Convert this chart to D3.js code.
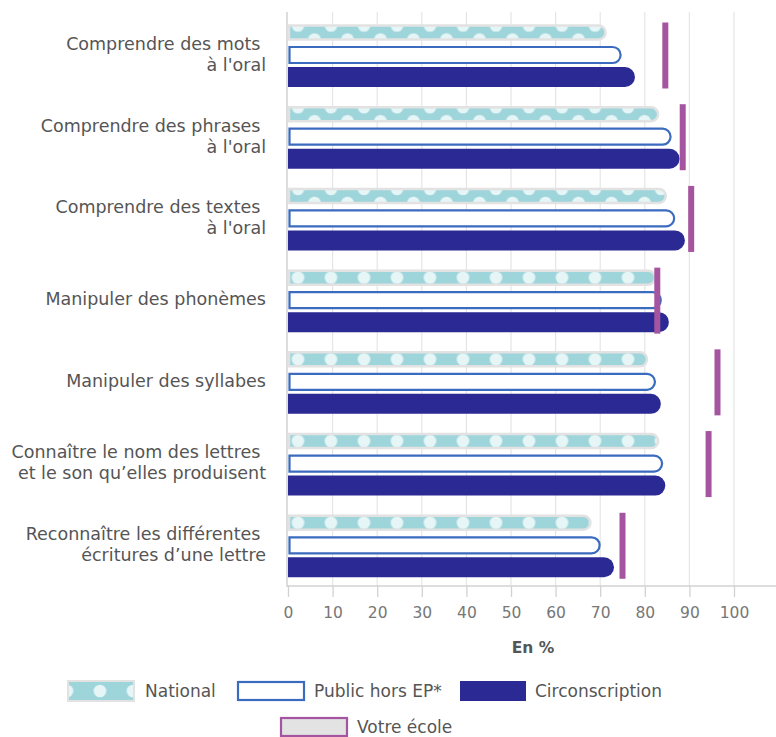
<!DOCTYPE html>
<html><head><meta charset="utf-8">
<script src="https://cdn.jsdelivr.net/npm/d3@7"></script>
<style>
html,body{margin:0;padding:0;background:#fff;}
svg{display:block;}
text{font-family:"DejaVu Sans",sans-serif;}
</style></head>
<body><svg id="chart" width="776" height="737"></svg>
<script>
const categories = [
  ["Comprendre des mots ", "à l'oral"],
  ["Comprendre des phrases ", "à l'oral"],
  ["Comprendre des textes ", "à l'oral"],
  ["Manipuler des phonèmes"],
  ["Manipuler des syllabes"],
  ["Connaître le nom des lettres ", "et le son qu’elles produisent"],
  ["Reconnaître les différentes ", "écritures d’une lettre"]
];
const nationalValues = [71.2, 83.0, 84.7, 82.3, 80.5, 83.0, 67.8];
const publicValues   = [74.8, 86.0, 86.8, 83.8, 82.5, 84.1, 70.1];
const circValues     = [77.8, 87.8, 89.0, 85.4, 83.6, 84.6, 73.1];
const ecoleValues    = [84.6, 88.5, 90.4, 82.8, 96.3, 94.3, 75.0];
const xTicks = [0,10,20,30,40,50,60,70,80,90,100];
const legendItems = ["National", "Public hors EP*", "Circonscription", "Votre école"];

const C = {teal:"#9dd5db", dot:"#e6f5f6", halo:"#e2e2e2", pubStroke:"#3a6bbf",
  circ:"#2b2a94", ecole:"#a5559f", grid:"#e5e5e5", axis:"#d2d2d2", label:"#555", tick:"#777"};

const svg = d3.select("#chart");
const defs = svg.append("defs");
const x = d3.scaleLinear().domain([0,100]).range([288,734]);
const rows = d3.range(categories.length);
const y = d3.scaleBand().domain(rows).range([15,587]);
const plotTop = 12, plotBottom = 586, plotLeft = 287, plotRight = 776;

svg.append("g").selectAll("line").data(xTicks.slice(1)).join("line")
  .attr("x1", d=>x(d)).attr("x2", d=>x(d)).attr("y1", plotTop).attr("y2", plotBottom)
  .attr("stroke", C.grid).attr("stroke-width", 1.2);

svg.append("line").attr("x1", plotLeft).attr("x2", plotLeft).attr("y1", plotTop).attr("y2", plotBottom+1)
  .attr("stroke", C.axis).attr("stroke-width", 1.5);
svg.append("line").attr("x1", plotLeft).attr("x2", plotRight).attr("y1", plotBottom).attr("y2", plotBottom)
  .attr("stroke", C.axis).attr("stroke-width", 1.5);

const xAxis = svg.append("g").attr("transform", `translate(0,${plotBottom})`)
  .call(d3.axisBottom(x).tickValues(xTicks).tickSize(11).tickPadding(10));
xAxis.select(".domain").remove();
xAxis.selectAll(".tick line").attr("stroke", C.axis).attr("stroke-width", 1.3);
xAxis.selectAll(".tick text").attr("fill", C.tick).style("font-size","15.5px")
  .style("font-family", '"DejaVu Sans",sans-serif');

svg.append("text").attr("x", 533).attr("y", 653).attr("text-anchor","middle")
  .attr("fill", C.label).style("font-size","15.5px").style("font-weight","bold").text("En %");

function roundEnd(x0, x1, yy, h){
  const r = h/2;
  const xr = Math.max(x0, x1 - r);
  return `M${x0},${yy}H${xr}A${r},${r} 0 0 1 ${xr},${yy+h}H${x0}Z`;
}

function makePattern(id, py, h, wave){
  const p = defs.append("pattern").attr("id", id).attr("patternUnits","userSpaceOnUse")
    .attr("x", 281.5).attr("y", py).attr("width", 33).attr("height", h);
  p.append("rect").attr("width",33).attr("height",h).attr("fill",C.teal);
  if(wave){
    p.append("circle").attr("cx",16.5).attr("cy",0).attr("r",6.3).attr("fill",C.dot);
    p.append("circle").attr("cx",0).attr("cy",h).attr("r",6.3).attr("fill",C.dot);
    p.append("circle").attr("cx",33).attr("cy",h).attr("r",6.3).attr("fill",C.dot);
  } else {
    p.append("circle").attr("cx",16.5).attr("cy",h/2).attr("r",6.3).attr("fill",C.dot);
  }
}

const g = svg.append("g");
rows.forEach(i=>{
  const s = y(i);
  const nh = 14, ny = s+10.5;
  makePattern("nat"+i, ny, nh, i<3);
  g.append("path").attr("d", roundEnd(x(0)+1, x(nationalValues[i]), ny, nh))
    .attr("fill", `url(#nat${i})`).attr("stroke", C.halo).attr("stroke-width", 2.5);
  g.append("path").attr("d", roundEnd(x(0)+1.5, x(publicValues[i])-1, s+32, 16))
    .attr("fill", "#fff").attr("stroke", C.pubStroke).attr("stroke-width", 2.2);
  g.append("path").attr("d", roundEnd(x(0), x(circValues[i]), s+52, 20))
    .attr("fill", C.circ);
  g.append("rect").attr("x", x(ecoleValues[i])-3).attr("y", s+7.5).attr("width", 6).attr("height", 66)
    .attr("fill", C.ecole);

  const lines = categories[i];
  const c = s + y.bandwidth()/2;
  const offs = lines.length === 1 ? [-2] : [-12, 9];
  lines.forEach((ln, k)=>{
    svg.append("text").attr("x", 266).attr("y", c + offs[k] + 6)
      .attr("text-anchor","end").attr("fill", C.label)
      .style("font-size","17.5px").style("white-space","pre").text(ln);
  });
});

const lg = svg.append("g");
makePattern("natLeg", 681, 20, false);
const sw = [{x:68,y:681},{x:237,y:681},{x:460,y:681},{x:280,y:717}];
const tx = [145,314,535,357];
lg.append("rect").attr("x",sw[0].x).attr("y",sw[0].y).attr("width",66).attr("height",20)
  .attr("fill","url(#natLeg)").attr("stroke",C.halo).attr("stroke-width",2);
lg.append("rect").attr("x",sw[1].x+1).attr("y",sw[1].y+1).attr("width",66).attr("height",18)
  .attr("fill","#fff").attr("stroke",C.pubStroke).attr("stroke-width",2.2);
lg.append("rect").attr("x",sw[2].x).attr("y",sw[2].y).attr("width",66).attr("height",20)
  .attr("fill",C.circ);
lg.append("rect").attr("x",sw[3].x+1).attr("y",sw[3].y+1).attr("width",66).attr("height",18)
  .attr("fill","#e3e3e3").attr("stroke",C.ecole).attr("stroke-width",2.2);
legendItems.forEach((t,k)=>{
  lg.append("text").attr("x",tx[k]).attr("y",sw[k].y+16).attr("fill",C.label)
    .style("font-size","17px").text(t);
});
</script></body></html>
